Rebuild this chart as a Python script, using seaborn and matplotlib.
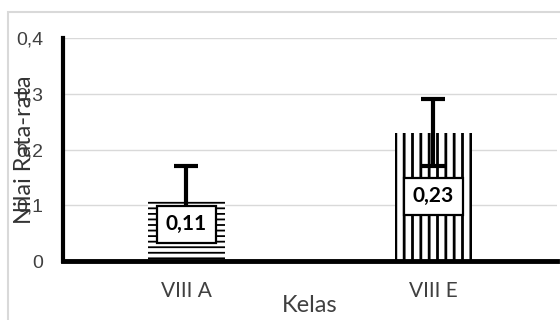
import matplotlib
matplotlib.use("Agg")
import matplotlib.pyplot as plt
import seaborn as sns
import pandas as pd
from matplotlib.patches import Rectangle

# data
kelas = ["VIII A", "VIII E"]
nilai = [0.11, 0.23]
galat = [0.06, 0.06]
label_nilai = ["0,11", "0,23"]
label_pos = [0.066, 0.116]
yticks = [0, 0.1, 0.2, 0.3, 0.4]
ytick_labels = ["0", "0,1", "0,2", "0,3", "0,4"]
hatches = ["---", "||"]
hatch_lw = [1.3, 2.0]

sns.set_theme(style="white")
plt.rcParams["font.family"] = ["Lato", "DejaVu Sans"]
plt.rcParams["hatch.color"] = "black"

df = pd.DataFrame({"Kelas": kelas, "Nilai": nilai})

fig = plt.figure(figsize=(5.6, 3.2), dpi=100)
ax = fig.add_axes([0.1125, 0.184, 0.882, 0.697])

sns.barplot(data=df, x="Kelas", y="Nilai", ax=ax, color="white", width=0.31,
            errorbar=None, edgecolor="none", linewidth=0, zorder=2)
for bar, h, lw in zip(ax.patches, hatches, hatch_lw):
    bar.set_hatch(h)
    bar.set_edgecolor("black")
    bar.set_linewidth(0)
    if hasattr(bar, "set_hatch_linewidth"):
        bar.set_hatch_linewidth(lw)
    else:
        plt.rcParams["hatch.linewidth"] = 1.6

ax.errorbar(range(len(kelas)), nilai, yerr=galat, fmt="none", ecolor="black",
            elinewidth=3, capsize=8.5, capthick=3, zorder=3)

for i, (y, t) in enumerate(zip(label_pos, label_nilai)):
    ax.text(i, y, t, ha="center", va="center", fontsize=15,
            fontweight="bold", color="black", zorder=5,
            bbox=dict(boxstyle="square,pad=0.42", fc="white", ec="black", lw=1.6))

ax.set_ylim(0, 0.4)
ax.set_xlim(-0.5, 1.5)
ax.set_yticks(yticks)
ax.set_yticklabels(ytick_labels, fontsize=14, color="#404040",
                   family=["Liberation Sans", "DejaVu Sans"])
ax.tick_params(axis="y", length=0, pad=14)
ax.tick_params(axis="x", length=0, pad=14, labelsize=15, colors="#404040")
ax.yaxis.grid(True, color="#d9d9d9", linewidth=1, zorder=0)
ax.set_axisbelow(True)

for s in ["top", "right"]:
    ax.spines[s].set_visible(False)
ax.spines["left"].set_linewidth(3)
ax.spines["left"].set_color("black")
ax.spines["bottom"].set_linewidth(3.5)
ax.spines["bottom"].set_color("black")

ax.set_xlabel("Kelas", fontsize=17, color="#404040")
ax.xaxis.set_label_coords(0.5, -0.2)
ax.xaxis.label.set_va("center")
ax.set_ylabel("Nilai Rata-rata", fontsize=17, color="#333333")
ax.yaxis.set_label_coords(-0.077, 0.5)
ax.yaxis.label.set_va("center")

fig.patches.append(Rectangle((0.014, -0.1), 1.2, 1.0625, transform=fig.transFigure,
                             fill=False, ec="#d9d9d9", lw=1.5))

fig.savefig("out.png", dpi=100)
